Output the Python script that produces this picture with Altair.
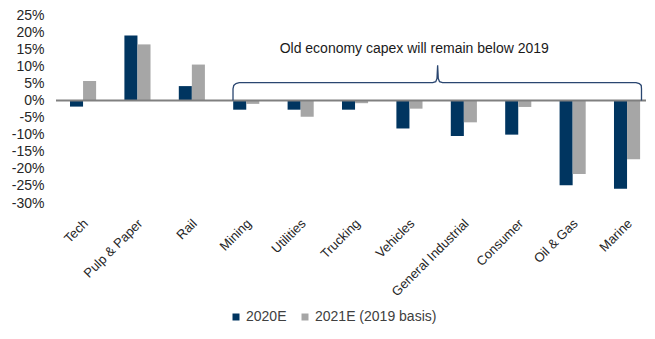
import altair as alt
import pandas as pd

categories = ["Tech", "Pulp & Paper", "Rail", "Mining", "Utilities", "Trucking",
              "Vehicles", "General Industrial", "Consumer", "Oil & Gas", "Marine"]
v2020 = [-1.8, 19.0, 4.2, -2.7, -2.7, -2.7, -8.2, -10.4, -10.0, -24.8, -25.8]
v2021 = [5.7, 16.4, 10.5, -1.0, -4.8, -0.8, -2.4, -6.4, -1.9, -21.5, -17.2]
series = ["2020E", "2021E (2019 basis)"]
colors = ["#003560", "#a6a6a6"]
y_ticks = [25, 20, 15, 10, 5, 0, -5, -10, -15, -20, -25, -30]

# annotation brace, in category-index units (x) and percent (y)
brace_x = [3.256, 3.256, 3.27, 3.31, 3.37, 6.93, 6.985, 7.008, 7.02, 7.032, 7.055, 7.11, 10.67, 10.73, 10.765, 10.77, 10.77]
brace_y = [0.0, 3.4, 4.4, 4.95, 5.2, 5.2, 5.5, 6.4, 10.3, 6.4, 5.5, 5.2, 5.2, 4.95, 4.4, 3.4, 0.0]
note_text = ["Old economy capex will remain below 2019"]
note_x = [6.59]
note_y = [15.0]
zero_x = [0]
zero_x2 = [11]
zero_y = [0]

rows = []
for c, a, b in zip(categories, v2020, v2021):
    rows.append({"cat": c, "series": series[0], "value": a / 100})
    rows.append({"cat": c, "series": series[1], "value": b / 100})
df = pd.DataFrame(rows)

brace_df = pd.DataFrame({"bx": brace_x, "by": [v / 100 for v in brace_y], "i": list(range(len(brace_x)))})
note_df = pd.DataFrame({"t": note_text, "nx": note_x, "ny": [v / 100 for v in note_y]})
zero_df = pd.DataFrame({"zx": zero_x, "zx2": zero_x2, "zy": [v / 100 for v in zero_y]})

font = "Liberation Sans"
W, H = 590, 188
yscale = alt.Scale(domain=[-0.30, 0.25], nice=False)
xq = alt.Scale(domain=[0, 11], range=[0, 598], nice=False, zero=False)
yaxis = alt.Axis(values=[v / 100 for v in y_ticks],
                 labelExpr="replace(format(datum.value, '.0%'), '\u2212', '-')",
                 domain=False, ticks=False, grid=False, labelPadding=12,
                 labelOverlap=False, labelFontSize=14, labelFont=font,
                 labelColor="#262626")

bars = alt.Chart(df).mark_bar().encode(
    x=alt.X("cat:N", sort=categories, title=None,
            scale=alt.Scale(paddingInner=0.52, paddingOuter=0, range=[14, 584.1]),
            axis=alt.Axis(labelAngle=-45, labelAlign="right", labelBaseline="middle",
                          domain=False, ticks=False, labelPadding=18, labelOffset=3,
                          labelOverlap=False, labelFontSize=13, labelFont=font,
                          labelColor="#262626")),
    xOffset=alt.XOffset("series:N", sort=series, scale=alt.Scale(paddingInner=0, paddingOuter=0)),
    y=alt.Y("value:Q", scale=yscale, title=None, axis=yaxis),
    color=alt.Color("series:N", sort=series, scale=alt.Scale(domain=series, range=colors),
                    legend=alt.Legend(title=None, orient="none", direction="horizontal",
                                      legendX=173, legendY=295, symbolType="square", symbolSize=49,
                                      symbolStrokeWidth=0, labelFontSize=14, labelFont=font,
                                      labelColor="#404040", columnPadding=11, labelOffset=3)),
)

zero = alt.Chart(zero_df).mark_rule(color="#808080", strokeWidth=2).encode(
    x=alt.X("zx:Q", scale=xq, axis=None),
    x2="zx2:Q",
    y=alt.Y("zy:Q", scale=yscale, title=None, axis=yaxis),
)

brace = alt.Chart(brace_df).mark_line(color="#2a4670", strokeWidth=1.3).encode(
    x=alt.X("bx:Q", scale=xq, axis=None),
    y=alt.Y("by:Q", scale=yscale, title=None, axis=yaxis),
    order="i:Q",
)
note = alt.Chart(note_df).mark_text(font=font, fontSize=14, color="#1a1a1a").encode(
    x=alt.X("nx:Q", scale=xq, axis=None),
    y=alt.Y("ny:Q", scale=yscale, title=None, axis=yaxis),
    text="t:N",
)

chart = alt.layer(bars, zero, brace, note).resolve_scale(x="independent").properties(
    width=W, height=H,
    autosize=alt.AutoSizeParams(type="none"),
    padding={"left": 48, "top": 7, "right": 0, "bottom": 123},
).configure_view(stroke=None)

chart.save("out.html", embed_options={"renderer": "svg", "actions": False})
